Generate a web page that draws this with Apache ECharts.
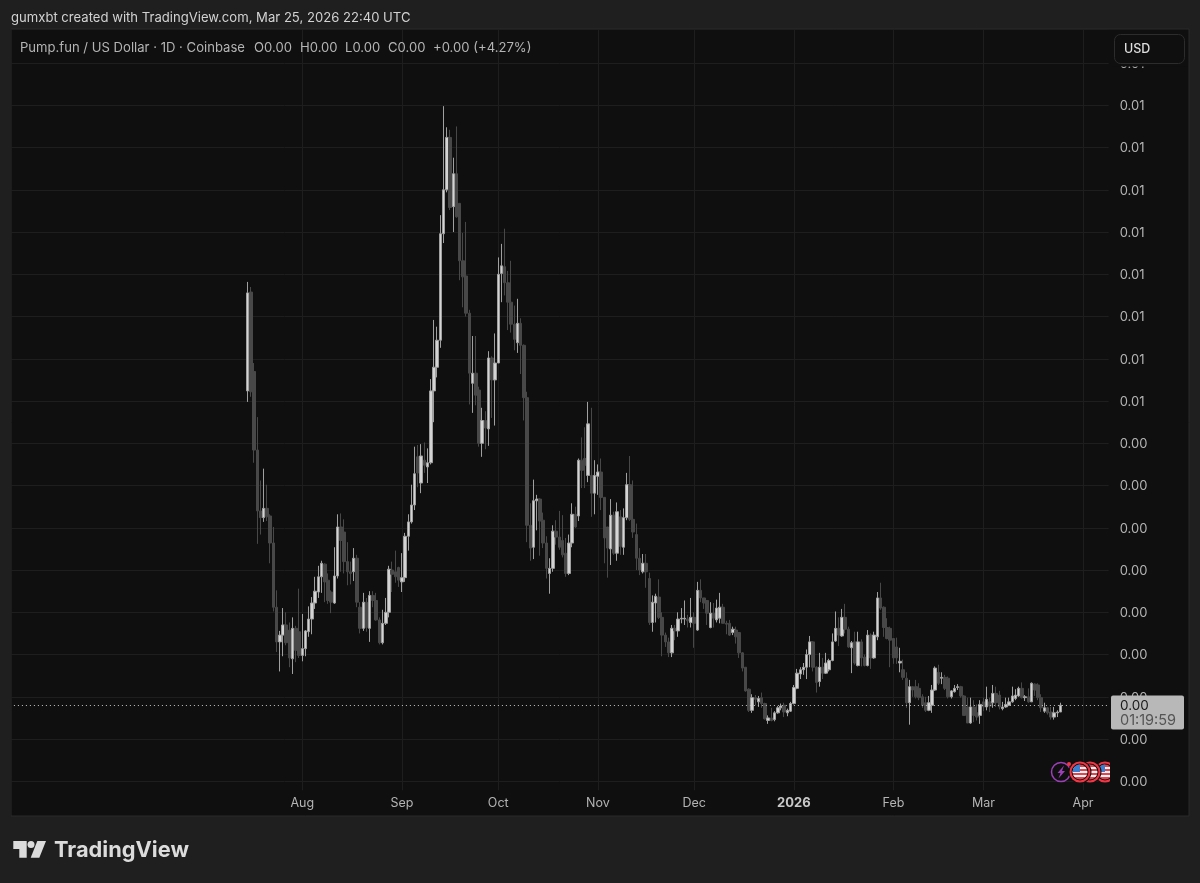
<!DOCTYPE html>
<html lang="en">

<head>
    <meta charset="UTF-8">
    <title>Pump.fun / US Dollar</title>
    <script src="https://cdn.jsdelivr.net/npm/echarts@6/dist/echarts.min.js"></script>
    <style>
        html, body { margin: 0; padding: 0; background: #1f1f1f; }
        #main { width: 1200px; height: 883px; }
    </style>
</head>

<body>
    <div id="main"></div>
    <script type="text/javascript">
        // prices are in 1/100000 USD, every row is [open, close, low, high]
        var candlesJul = [
            [512,628,499,641],[629,511,505,635],[535,442,427,545],[442,370,331,481],[370,362,342,406],[362,373,357,420],
            [373,363,358,401],[364,332,308,366],[332,256,251,351],[256,215,203,276],[215,223,180,228],[223,235,198,255],
            [235,214,211,250],[229,196,185,238],[195,231,177,244],[231,205,191,234],[227,199,196,278]
        ];
        var candlesAug = [
            [199,207,192,248],[207,228,198,229],[227,242,221,257],[242,261,224,268],[261,275,254,292],[274,292,267,305],
            [292,308,273,311],[307,286,262,308],[288,264,260,296],[274,262,249,276],[261,293,260,327],[293,351,290,366],
            [351,335,298,367],[345,310,296,360],[310,298,282,333],[298,296,283,310],[298,314,287,326],[314,262,256,318],
            [256,231,225,262],[231,262,228,273],[262,232,227,267],[231,270,215,275],[270,264,256,275],[264,241,240,273],
            [241,214,212,244],[214,237,212,253],[237,250,235,267],[250,301,244,305],[300,295,274,310],[298,292,285,323],
            [303,288,280,304]
        ];
        var candlesSep = [
            [286,291,274,320],[291,340,286,344],[340,357,323,366],[357,377,355,401],[377,414,371,446],[434,415,398,448],
            [403,435,391,449],[430,424,415,451],[422,427,403,444],[427,512,425,526],[512,540,475,596],[540,572,528,588],
            [572,698,563,720],[698,750,687,849],[750,812,747,824],[812,729,726,821],[730,769,700,788],[769,718,717,825],
            [734,666,643,734],[666,647,611,699],[648,604,600,712],[604,533,496,608],[521,533,486,577],[533,507,495,577],
            [513,450,446,517],[450,477,434,492],[477,468,443,488],[467,551,447,559],[551,525,480,553],[525,545,471,580]
        ];
        var candlesOct = [
            [545,650,545,670],[651,660,617,686],[659,640,625,704],[640,617,584,654],[617,591,581,666],[591,573,560,613],
            [569,592,557,621],[592,566,532,598],[566,504,477,567],[504,353,333,511],[353,326,311,379],[327,382,313,407],
            [382,384,347,389],[384,358,317,385],[359,332,326,368],[332,302,290,340],[296,302,272,314],[302,346,298,353],
            [346,339,330,359],[339,327,324,370],[335,318,315,365],[320,296,292,338],[296,332,294,342],[332,366,327,379],
            [366,351,350,375],[364,430,358,432],[430,418,397,457],[432,424,397,469],[412,473,404,499],[412,391,363,492],
            [391,412,366,430]
        ];
        var candlesNov = [
            [411,416,389,425],[416,386,371,432],[386,338,308,386],[351,326,291,351],[325,365,306,384],[365,320,318,369],
            [320,369,311,380],[363,328,318,371],[327,362,318,373],[362,401,359,415],[401,360,358,435],[360,345,338,406],
            [342,314,300,355],[314,300,294,326],[298,308,296,319],[308,298,279,319],[290,238,235,297],[238,262,227,270],
            [261,269,238,272],[268,244,242,289],[244,223,198,250],[223,215,209,226],[215,202,197,220],[202,231,197,235],
            [231,228,217,235],[228,242,221,250],[242,243,237,255],[242,243,235,264],[242,240,232,247],[238,244,232,267]
        ];
        var candlesDec = [
            [244,237,208,250],[229,276,228,286],[276,267,262,289],[267,261,254,267],[264,249,235,264],[232,249,231,262],
            [249,243,232,261],[241,255,238,265],[243,256,237,273],[256,237,237,260],[237,236,224,240],[237,223,222,241],
            [226,230,223,233],[229,221,213,233],[226,202,196,226],[202,184,180,203],[185,157,156,185],[159,134,132,160],
            [134,149,131,153],[149,147,140,152],[144,148,138,151],[149,142,137,155],[142,124,123,143],[122,125,118,128],
            [125,122,121,137],[123,131,121,133],[131,137,130,139],[137,139,134,142],[140,132,126,143],[131,134,127,136],
            [133,142,132,144]
        ];
        var candlesJan = [
            [142,161,141,164],[160,178,159,183],[177,182,171,185],[182,185,176,190],[185,200,171,206],[200,215,185,222],
            [215,185,180,216],[185,167,155,186],[168,185,162,202],[185,178,171,196],[178,190,177,202],[182,193,180,195],
            [193,215,192,225],[216,231,215,251],[231,223,210,244],[222,244,221,254],[244,230,225,260],[230,209,208,233],
            [208,214,178,216],[215,190,188,227],[187,215,186,227],[215,196,186,218],[197,187,186,200],[187,223,186,229],
            [223,196,183,225],[196,223,195,227],[221,267,217,274],[267,255,253,285],[256,232,221,257],[232,219,218,243],
            [231,217,185,233]
        ];
        var candlesFeb = [
            [219,196,189,219],[209,196,189,220],[190,192,179,208],[182,173,170,194],[172,143,137,179],[143,162,117,170],
            [162,158,150,162],[162,150,148,170],[160,149,146,166],[150,140,137,153],[143,134,132,150],[134,143,133,151],
            [140,158,131,164],[158,184,157,186],[179,166,164,188],[172,173,165,179],[173,160,158,176],[172,150,148,174],
            [150,157,148,158],[156,160,155,164],[161,162,158,165],[162,151,149,163],[151,128,128,152],[138,119,119,149],
            [119,138,118,149],[138,128,120,146],[131,126,122,141],[128,141,118,146]
        ];
        var candlesMar = [
            [144,138,133,149],[138,147,134,162],[144,139,132,149],[143,154,137,164],[154,143,138,162],[152,138,135,157],
            [136,138,134,144],[138,141,137,149],[140,144,139,149],[144,151,143,162],[148,152,146,159],[151,160,150,162],
            [160,149,148,167],[149,150,145,152],[150,144,143,160],[144,166,144,167],[165,158,151,166],[164,149,146,166],
            [149,137,132,153],[133,137,131,143],[137,131,129,138],[132,126,123,138],[126,131,123,138],[131,132,126,134],
            [132,140,132,143]
        ];
        var lastPrice = 140;
        var monthLabels = {
            '2025-08-01': 'Aug', '2025-09-01': 'Sep', '2025-10-01': 'Oct', '2025-11-01': 'Nov',
            '2025-12-01': 'Dec', '2026-01-01': '{bold|2026}', '2026-02-01': 'Feb', '2026-03-01': 'Mar', '2026-04-01': 'Apr'
        };
        var legendParts = [
            ['Pump.fun / US Dollar · 1D · Coinbase', 20], ['O0.00', 254], ['H0.00', 300],
            ['L0.00', 345], ['C0.00', 388], ['+0.00 (+4.27%)', 433]
        ];

        var candles = [].concat(candlesJul, candlesAug, candlesSep, candlesOct, candlesNov, candlesDec, candlesJan, candlesFeb, candlesMar);

        // one category per day, some empty days each side like the TradingView time scale
        var days = [];
        var d = Date.UTC(2025, 4, 2);
        for (var i = 0; i < 343; i++) {
            days.push(new Date(d + i * 86400000).toISOString().slice(0, 10));
        }
        var firstCandle = days.indexOf('2025-07-15');
        var seriesData = days.map(function (day, idx) {
            return candles[idx - firstCandle] || '-';
        });
        function isMonthStart(idx, value) {
            return monthLabels[value] !== undefined;
        }

        var gridColor = '#1e1e1e';
        var paneColor = '#0f0f0f';
        var textColor = '#b4b4b4';
        var font = 'Inter';

        function flag(cx, cy) {
            var stripes = [];
            for (var s = 0; s < 7; s++) {
                stripes.push({ offset: s / 7, color: s % 2 ? '#f4f4f4' : '#e8424e' });
                stripes.push({ offset: (s + 1) / 7, color: s % 2 ? '#f4f4f4' : '#e8424e' });
            }
            return [
                { type: 'circle', z: 30, shape: { cx: cx, cy: cy, r: 11.5 }, style: { fill: '#111' } },
                { type: 'circle', z: 30, shape: { cx: cx, cy: cy, r: 10.5 }, style: { fill: '#f23645' } },
                { type: 'circle', z: 30, shape: { cx: cx, cy: cy, r: 8.5 }, style: { fill: '#111' } },
                { type: 'circle', z: 30, shape: { cx: cx, cy: cy, r: 7.5 }, style: { fill: new echarts.graphic.LinearGradient(0, 0, 0, 1, stripes) } },
                { type: 'sector', z: 30, shape: { cx: cx, cy: cy, r: 7.5, startAngle: Math.PI, endAngle: Math.PI * 1.5 }, style: { fill: '#3b7fd0' } }
            ];
        }

        var graphics = [
            { type: 'rect', z: -10, shape: { x: 11, y: 29, width: 1178, height: 787 }, style: { fill: paneColor, stroke: '#2a2a2a', lineWidth: 1 } },
            { type: 'rect', z: 20, shape: { x: 0, y: 29, width: 11, height: 787 }, style: { fill: '#1f1f1f' } },
            // hides the top of the clipped label under the USD button
            { type: 'rect', z: 20, shape: { x: 1110, y: 30, width: 78, height: 36.5 }, style: { fill: paneColor } },
            { type: 'rect', z: 21, shape: { x: 1114.5, y: 34.5, width: 70, height: 29, r: 6 }, style: { fill: paneColor, stroke: '#2c2c2c', lineWidth: 1 } },
            { type: 'text', z: 22, x: 1124, y: 49, style: { text: 'USD', fill: '#dedede', font: '500 12.5px ' + font, verticalAlign: 'middle' } },
            { type: 'text', z: 22, x: 11, y: 18, style: { text: 'gumxbt created with TradingView.com, Mar 25, 2026 22:40 UTC', fill: '#d2d2d2', font: '13.1px ' + font, verticalAlign: 'middle' } },
            // last price box
            { type: 'rect', z: 22, shape: { x: 1111, y: 695.5, width: 73, height: 34, r: 2 }, style: { fill: '#b8b8b8' } },
            { type: 'text', z: 23, x: 1120, y: 705.5, style: { text: '0.00', fill: '#1a1a1a', font: '13.5px ' + font, verticalAlign: 'middle' } },
            { type: 'text', z: 23, x: 1120, y: 721, style: { text: '01:19:59', fill: '#555555', font: '14.5px ' + font, verticalAlign: 'middle' } },
            // event icons
            { type: 'circle', z: 29, shape: { cx: 1061, cy: 772, r: 9.5 }, style: { fill: paneColor, stroke: '#9c3fb8', lineWidth: 1.5 } },
            { type: 'polygon', z: 29, shape: { points: [[1064, 765.5], [1057.5, 773], [1060.5, 773], [1058.5, 778.5], [1065, 771], [1062, 771]] }, style: { fill: '#9c3fb8' } }
        ];
        graphics = graphics.concat(flag(1105, 772), flag(1090, 772), flag(1080, 772));
        graphics.push(
            { type: 'circle', z: 31, shape: { cx: 1069, cy: 764, r: 2 }, style: { fill: '#f23645' } },
            { type: 'rect', z: 31, shape: { x: 1110, y: 755, width: 8, height: 34 }, style: { fill: paneColor } },
            // TradingView logo
            { type: 'polygon', z: 5, shape: { points: [[13.3, 841], [26.7, 841], [26.7, 857.7], [19.3, 857.7], [19.3, 849], [13.3, 849]] }, style: { fill: '#dcdcdc' } },
            { type: 'circle', z: 5, shape: { cx: 31, cy: 844.5, r: 3.5 }, style: { fill: '#dcdcdc' } },
            { type: 'polygon', z: 5, shape: { points: [[37.3, 841], [46, 841], [39.3, 857.7], [30.7, 857.7]] }, style: { fill: '#dcdcdc' } },
            { type: 'text', z: 5, x: 54, y: 850, style: { text: 'TradingView', fill: '#dcdcdc', font: '700 21.8px ' + font, verticalAlign: 'middle' } }
        );
        legendParts.forEach(function (p) {
            graphics.push({ type: 'text', z: 22, x: p[1], y: 48, style: { text: p[0], fill: textColor, font: '13.1px ' + font, verticalAlign: 'middle' } });
        });

        var myChart = echarts.init(document.getElementById('main'));
        myChart.setOption({
            animation: false,
            backgroundColor: '#1f1f1f',
            graphic: graphics,
            grid: { left: 9.9, top: 29, width: 1098.8, height: 752.3 },
            xAxis: {
                type: 'category',
                data: days,
                boundaryGap: false,
                axisLine: { show: false },
                axisTick: { show: true, interval: isMonthStart, length: 9, lineStyle: { color: gridColor } },
                splitLine: { show: true, interval: isMonthStart, lineStyle: { color: gridColor } },
                axisLabel: {
                    interval: isMonthStart,
                    margin: 15,
                    color: textColor,
                    fontFamily: font,
                    fontSize: 12.5,
                    formatter: function (value) {
                        return monthLabels[value] || '';
                    },
                    rich: { bold: { color: '#c8c8c8', fontFamily: font, fontSize: 13, fontWeight: 700 } }
                }
            },
            yAxis: {
                type: 'value',
                position: 'right',
                min: 50,
                max: 940.3,
                interval: 50,
                axisLine: { show: false },
                axisTick: { show: false },
                splitLine: { lineStyle: { color: gridColor } },
                axisLabel: {
                    showMaxLabel: false,
                    margin: 11,
                    formatter: function (v) {
                        return '{price|' + (v / 100000).toFixed(2) + '}';
                    },
                    rich: { price: { color: textColor, fontFamily: font, fontSize: 13, padding: [2, 0, 0, 0] } }
                }
            },
            series: [{
                name: 'PUMP/USD',
                type: 'candlestick',
                data: seriesData,
                barWidth: 3,
                itemStyle: {
                    color: '#d4d4d4',
                    color0: '#484848',
                    borderColor: '#a0a0a0',
                    borderColor0: '#484848',
                    borderWidth: 1
                },
                markLine: {
                    silent: true,
                    symbol: 'none',
                    label: { show: false },
                    lineStyle: { color: '#c4c4c4', type: [1, 3], width: 1 },
                    data: [{ yAxis: lastPrice }]
                }
            }]
        });
    </script>
</body>

</html>
